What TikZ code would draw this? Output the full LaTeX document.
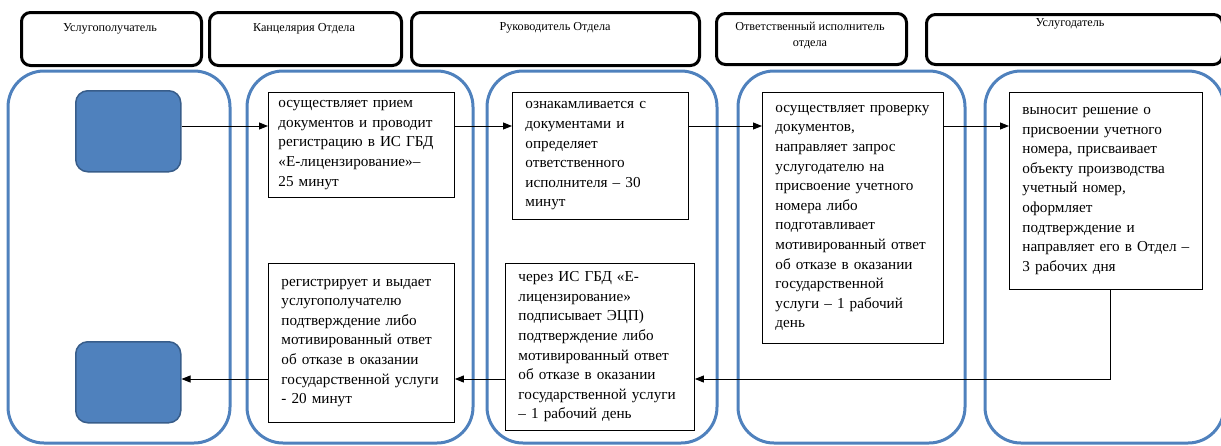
\documentclass[tikz,border=0pt]{standalone}
\usepackage{fontspec}
\setmainfont{Liberation Serif}
\usetikzlibrary{arrows.meta}
\definecolor{lane}{RGB}{79,129,189}
\definecolor{sqfill}{RGB}{79,129,189}
\definecolor{sqdraw}{RGB}{56,93,138}
\begin{document}
\begin{tikzpicture}[x=1pt,y=-1pt,
  hdr/.style={draw=black,line width=3pt,rounded corners=9pt,anchor=north west,align=center,inner sep=0pt},
  htext/.style={font=\fontsize{12.2}{16}\selectfont,align=center},
  lanebox/.style={draw=lane,line width=3pt,rounded corners=36pt},
  sq/.style={draw=sqdraw,line width=1.5pt,fill=sqfill,rounded corners=12pt,anchor=north west,inner sep=0pt,minimum width=105pt,minimum height=81pt},
  tbox/.style={draw=black,line width=0.9pt,fill=white,anchor=north west,align=left,inner xsep=13pt,inner ysep=0pt,font=\fontsize{15.2}{19.6}\selectfont},
  arr/.style={line width=0.9pt,-{Triangle[length=9pt,width=7pt]}}]
\useasboundingbox (0,0) rectangle (1221,445);
% lanes
\draw[lanebox] (8,71) rectangle (230,443);
\draw[lanebox] (247,71) rectangle (473,443);
\draw[lanebox] (487,71) rectangle (717,443);
\draw[lanebox] (738,71) rectangle (965,443);
\draw[lanebox] (985,71) rectangle (1224,443);
% headers
\node[hdr,minimum width=180pt,minimum height=53pt] (h1) at (20,11) {};
\node[htext] (t1) at (110,29) {Услугополучатель};
\node[hdr,minimum width=192pt,minimum height=53pt] (h2) at (208,11) {};
\node[htext] (t2) at (304,29) {Канцелярия Отдела};
\node[hdr,minimum width=288pt,minimum height=53pt] (h3) at (410,11) {};
\node[htext] (t3) at (555,28) {Руководитель Отдела};
\node[hdr,minimum width=190pt,minimum height=51pt] (h4) at (715,12) {};
\node[htext] (t4) at (810,36) {Ответственный исполнитель\\отдела};
\node[hdr,minimum width=296pt,minimum height=50pt] (h5) at (925,13) {};
\node[htext] (t5) at (1070,24) {Услугодатель};
% squares
\node[sq] (s1) at (75,90) {};
\node[sq] (s2) at (75,341) {};
% text boxes
\node[tbox,text width=166pt,inner xsep=10pt,minimum height=105pt] (A) at (268,92) {осуществляет прием\\документов и проводит\\регистрацию в ИС ГБД\\«Е-лицензирование»–\\25 минут};
\node[tbox,text width=150pt,minimum height=127pt] (C) at (512,92) {ознакамливается с\\документами и\\определяет\\ответственного\\исполнителя – 30\\минут};
\node[tbox,text width=155pt,minimum height=251pt] (E) at (762,92) {осуществляет проверку\\документов,\\направляет запрос\\услугодателю на\\присвоение учетного\\номера либо\\подготавливает\\мотивированный ответ\\об отказе в оказании\\государственной\\услуги – 1 рабочий\\день};
\node[tbox,text width=167pt,minimum height=197pt] (F) at (1009,92) {выносит решение о\\присвоении учетного\\номера, присваивает\\объекту производства\\учетный номер,\\оформляет\\подтверждение и\\направляет его в Отдел –\\3 рабочих дня};
\node[tbox,text width=160pt,minimum height=159pt] (B) at (268,263) {регистрирует и выдает\\услугополучателю\\подтверждение либо\\мотивированный ответ\\об отказе в оказании\\государственной услуги\\- 20 минут};
\node[tbox,text width=163pt,minimum height=167pt] (D) at (505,263) {через ИС ГБД «Е-\\лицензирование»\\подписывает ЭЦП)\\подтверждение либо\\мотивированный ответ\\об отказе в оказании\\государственной услуги\\– 1 рабочий день};
% arrows
\draw[arr] (s1.east |- 0,126) -- (A.west |- 0,126);
\draw[arr] (A.east |- 0,126) -- (C.west |- 0,126);
\draw[arr] (C.east |- 0,126) -- (E.west |- 0,126);
\draw[arr] (E.east |- 0,126) -- (F.west |- 0,126);
\coordinate (fb) at (1110,289);
\coordinate (fc) at (1110,379);
\draw[arr] (fb) -- (fc) -- (D.east |- fc);
\draw[arr] (D.west |- fc) -- (B.east |- fc);
\draw[arr] (B.west |- fc) -- (s2.east |- fc);
\end{tikzpicture}
\end{document}
